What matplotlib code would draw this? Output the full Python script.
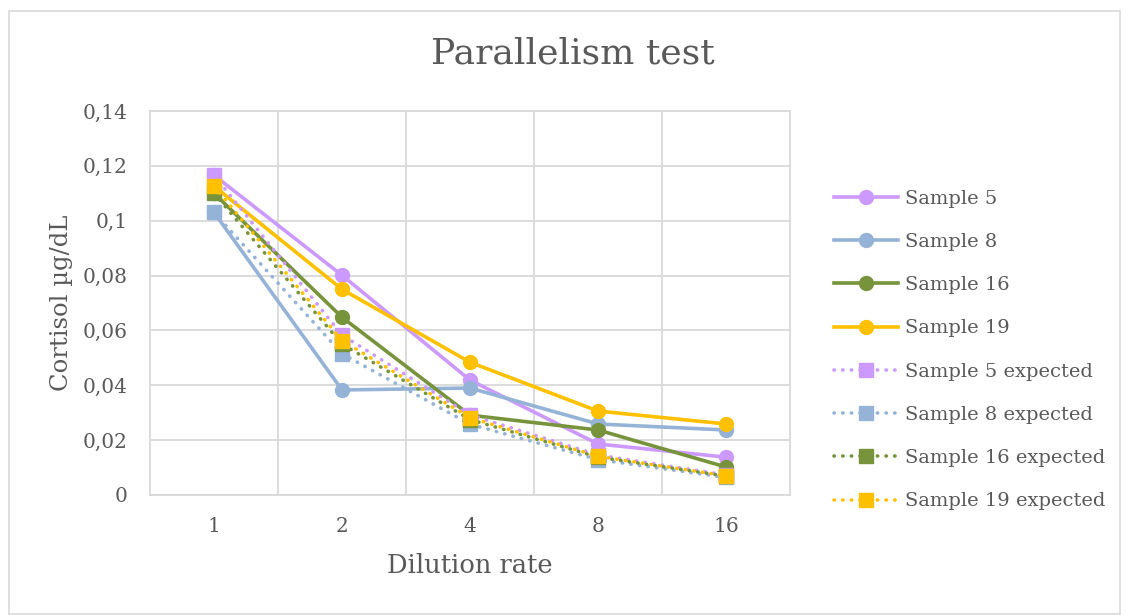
import matplotlib
matplotlib.use("Agg")
import matplotlib.pyplot as plt
from matplotlib.patches import Rectangle

categories = ["1", "2", "4", "8", "16"]
sample5 = [0.1166, 0.0801, 0.0419, 0.0186, 0.0138]
sample8 = [0.1030, 0.0383, 0.0390, 0.0259, 0.0237]
sample16 = [0.1100, 0.0648, 0.0291, 0.0237, 0.0102]
sample19 = [0.1126, 0.0750, 0.0484, 0.0306, 0.0259]
sample5_exp = [0.1166, 0.0583, 0.0292, 0.0146, 0.0073]
sample8_exp = [0.1030, 0.0515, 0.0258, 0.0129, 0.0064]
sample16_exp = [0.1100, 0.0550, 0.0275, 0.0138, 0.0069]
sample19_exp = [0.1126, 0.0563, 0.0282, 0.0141, 0.0070]
yticks = [0, 0.02, 0.04, 0.06, 0.08, 0.10, 0.12, 0.14]
ytick_labels = ["0", "0,02", "0,04", "0,06", "0,08", "0,1", "0,12", "0,14"]

plt.rcParams['font.family'] = ['DejaVu Serif']
txt = '#595959'
grid = '#D9D9D9'
colors = ['#CC99FF', '#95B3D7', '#77933C', '#FFC000']

fig = plt.figure(figsize=(11.31, 6.15), dpi=100)
fig.patches.append(Rectangle((9/1131, 0.002), 1 - 20/1131, 1 - 12/615, transform=fig.transFigure,
                             fill=False, edgecolor='#D9D9D9', linewidth=1.2))
ax = fig.add_axes([150/1131, 1 - 495/615, 640/1131, 384/615])

x = list(range(len(categories)))
solid = [("Sample 5", sample5), ("Sample 8", sample8), ("Sample 16", sample16), ("Sample 19", sample19)]
expct = [("Sample 5 expected", sample5_exp), ("Sample 8 expected", sample8_exp),
         ("Sample 16 expected", sample16_exp), ("Sample 19 expected", sample19_exp)]
for (lab, vals), c in zip(solid, colors):
    ax.plot(x, vals, color=c, lw=2.6, marker='o', ms=10, label=lab, zorder=3)
for (lab, vals), c in zip(expct, colors):
    ax.plot(x, vals, color=c, lw=2.6, linestyle=(0, (0.1, 2.3)), dash_capstyle='round',
            marker='s', ms=10, label=lab, zorder=4)

ax.set_xlim(-0.5, 4.5)
ax.set_ylim(0, 0.14)
ax.set_yticks(yticks)
ax.set_yticklabels(ytick_labels)
ax.set_xticks(x)
ax.set_xticklabels(categories)
ax.set_xticks([0.5, 1.5, 2.5, 3.5], minor=True)
ax.grid(True, which='major', axis='y', color=grid, lw=1.3)
ax.grid(True, which='minor', axis='x', color=grid, lw=1.3)
ax.set_axisbelow(True)
ax.tick_params(which='both', length=0, colors=txt, labelsize=14.5)
ax.tick_params(axis='y', pad=16)
ax.tick_params(axis='x', pad=16)
for s in ax.spines.values():
    s.set_color(grid)
    s.set_linewidth(1.3)

ax.set_xlabel("Dilution rate", fontsize=18.5, color=txt)
ax.xaxis.set_label_coords(0.5, (495 - 553) / 384)
ax.set_ylabel("Cortisol µg/dL", fontsize=17.5, color=txt)
ax.yaxis.set_label_coords((73 - 150) / 640, 0.5)
fig.text(573/1131, 1 - 54/615, "Parallelism test", ha='center', va='center', fontsize=26, color=txt)

leg = fig.legend(loc='center left', bbox_to_anchor=(816/1131, 1 - 350/615), frameon=False,
                 fontsize=14, handlelength=3.3, labelspacing=1.3, handletextpad=0.4, labelcolor=txt)

fig.savefig("out.png", dpi=100)
